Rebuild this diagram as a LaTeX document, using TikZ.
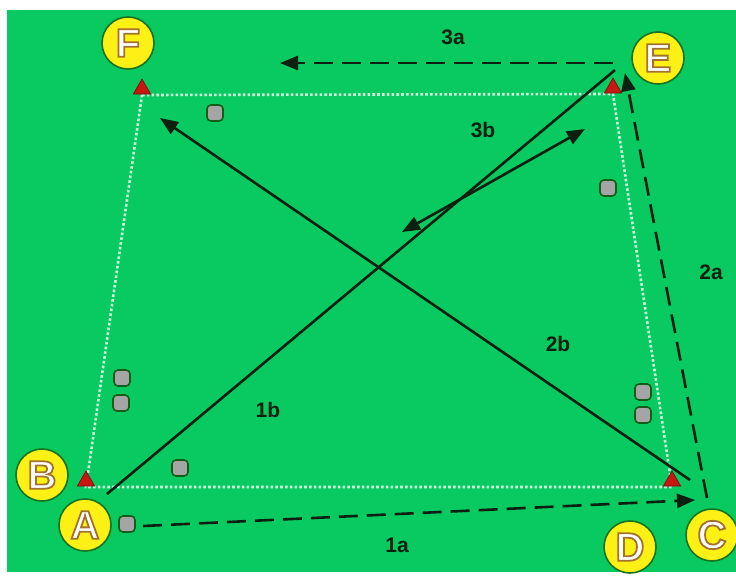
\documentclass[tikz,border=0pt]{standalone}
\usepackage{fontspec}
\setmainfont{Liberation Sans}
\usetikzlibrary{arrows.meta, shapes.geometric, calc}
\definecolor{pitch}{RGB}{8,202,96}
\definecolor{chalk}{RGB}{200,250,220}
\definecolor{conered}{RGB}{200,22,18}
\definecolor{badge}{RGB}{252,240,20}
\definecolor{rim}{RGB}{25,115,30}
\definecolor{ink}{RGB}{12,32,16}
\definecolor{ball}{RGB}{165,165,165}
% white letter with a brown outline (text render mode 2)
\newcommand{\letter}[1]{\special{pdf:literal direct 0.63 0.45 0.18 RG 1.8 w 2 Tr}#1\special{pdf:literal direct 0 Tr}}

\begin{document}
\begin{tikzpicture}[x=1pt, y=-1pt,
  player/.style={circle, draw=rim, line width=1.6pt, fill=badge, text=white, minimum size=52pt, inner sep=0pt, font=\fontsize{40}{40}\selectfont\bfseries},
  cone/.style={regular polygon, regular polygon sides=3, fill=conered, draw=conered!60!black, line width=0.6pt, minimum size=20pt, inner sep=0pt},
  dot/.style={rectangle, rounded corners=4pt, fill=ball, draw=rim!80!black, line width=1.6pt, minimum size=16pt, inner sep=0pt},
  tag/.style={font=\fontsize{21}{21}\selectfont\bfseries, text=ink, inner sep=0pt},
  chalkline/.style={chalk, line width=2.6pt, dash pattern=on 2.6pt off 2.2pt},
  pass/.style={ink, line width=2.6pt},
  run/.style={pass, -{Triangle[length=18pt,width=14pt]}},
  dribble/.style={run, dash pattern=on 19pt off 9pt}]
\useasboundingbox (0,0) rectangle (736,576);
\fill[white] (0,0) rectangle (736,576);
\fill[pitch] (7,10) rectangle (736,572);

% field markings
\coordinate (kF) at (142,95);
\coordinate (kE) at (613,94);
\coordinate (kC) at (672,487);
\coordinate (kB) at (86,487);
\draw[chalkline] (kF) -- (kE) -- (kC) -- (kB) -- cycle;
\foreach \k in {F,E,C,B}
  \node[cone] (cone\k) at ($(k\k)+(0,-6)$) {};

% balls
\foreach \x/\y [count=\i] in {215/113, 608/188, 122/378, 121/403, 180/468, 643/392, 643/415, 127/524}
  \node[dot] (ball\i) at (\x,\y) {};

% players
\node[player] (F) at (128,43) {\letter{F}};
\node[player] (E) at (658,58) {\letter{E}};
\node[player] (B) at (42,475) {\letter{B}};
\node[player] (A) at (85,525) {\letter{A}};
\node[player] (D) at (630,547) {\letter{D}};
\node[player] (C) at (712,535) {\letter{C}};

% runs and passes
\coordinate (s1a) at (143,526);
\coordinate (t1a) at (695,500);
\coordinate (s1b) at (107,494);
\coordinate (t1b) at (615,70);
\coordinate (s2a) at (707,498);
\coordinate (t2a) at (625,73);
\coordinate (s2b) at (690,480);
\coordinate (t2b) at (160,118);
\coordinate (s3a) at (613,63);
\coordinate (t3a) at (280,63);
\coordinate (s3b) at (402,232);
\coordinate (t3b) at (585,129);
\draw[dribble] (s1a) -- (t1a);
\draw[pass] (s1b) -- (t1b);
\draw[dribble] (s2a) -- (t2a);
\draw[run] (s2b) -- (t2b);
\draw[dribble] (s3a) -- (t3a);
\draw[run, {Triangle[length=18pt,width=14pt]}-{Triangle[length=18pt,width=14pt]}] (s3b) -- (t3b);

\node[tag] (l1a) at (397,545) {1a};
\node[tag] (l1b) at (268,410) {1b};
\node[tag] (l2a) at (711,272) {2a};
\node[tag] (l2b) at (558,344) {2b};
\node[tag] (l3a) at (453,37) {3a};
\node[tag] (l3b) at (483,130) {3b};
\end{tikzpicture}
\end{document}
